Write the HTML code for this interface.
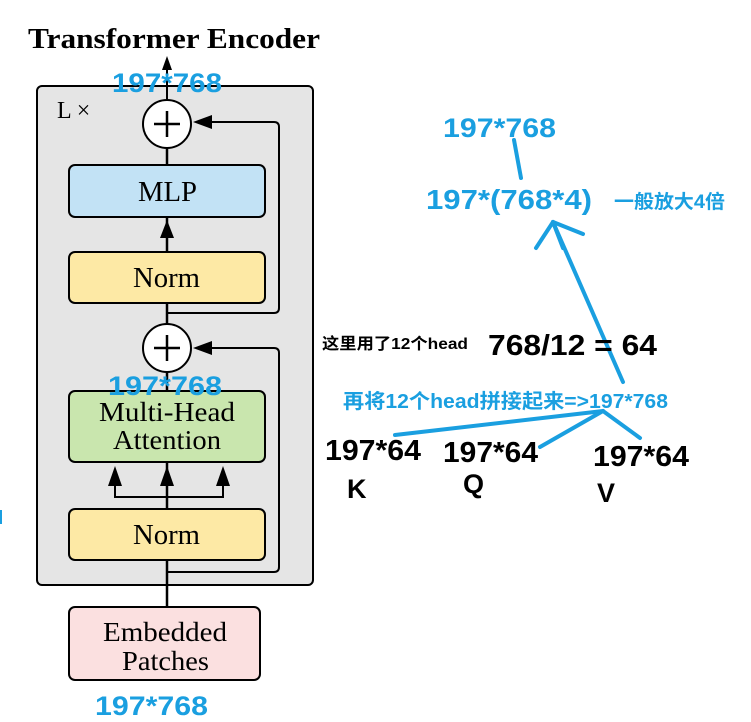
<!DOCTYPE html>
<html><head><meta charset="utf-8"><style>
body{margin:0;background:#fff;width:751px;height:722px;overflow:hidden}
</style></head><body>
<svg width="751" height="722" xmlns="http://www.w3.org/2000/svg" style="position:absolute;left:0;top:0">
<text x="28" y="48" font-family="Liberation Serif,serif" font-weight="bold" font-size="29" textLength="292" lengthAdjust="spacingAndGlyphs">Transformer Encoder</text>
<rect x="37" y="86" width="276" height="499" rx="5" fill="#e5e5e5" stroke="#000" stroke-width="2"/>
<text x="57" y="118" font-family="Liberation Serif,serif" font-size="24">L ×</text>
<line x1="167" y1="607" x2="167" y2="372" stroke="#000" stroke-width="2.5"/>
<line x1="167" y1="324" x2="167" y2="148" stroke="#000" stroke-width="2.5"/>
<line x1="167" y1="100" x2="167" y2="60" stroke="#000" stroke-width="2"/>
<path d="M162,70 L167,56 L172,70 z"/>
<path d="M160,238 L167,220 L174,238 z"/>
<path d="M167,313 H274 Q279,313 279,308 V127 Q279,122 274,122 H210" fill="none" stroke="#000" stroke-width="2"/>
<path d="M193,122 L212,115 L212,129 z"/>
<path d="M167,572 H274 Q279,572 279,567 V353 Q279,348 274,348 H210" fill="none" stroke="#000" stroke-width="2"/>
<path d="M193,348 L212,341 L212,355 z"/>
<g font-family="Liberation Serif,serif" font-size="28">
<rect x="69" y="165" width="196" height="52" rx="6" fill="#c2e2f5" stroke="#000" stroke-width="2"/>
<text x="138" y="201" textLength="59" lengthAdjust="spacingAndGlyphs">MLP</text>
<rect x="69" y="252" width="196" height="51" rx="6" fill="#fde9a5" stroke="#000" stroke-width="2"/>
<text x="133" y="287" textLength="67" lengthAdjust="spacingAndGlyphs">Norm</text>
<rect x="69" y="391" width="196" height="71" rx="6" fill="#c9e6ae" stroke="#000" stroke-width="2"/>
<text x="99" y="421" font-size="27" textLength="136" lengthAdjust="spacingAndGlyphs">Multi-Head</text>
<text x="113" y="449" font-size="27" textLength="108" lengthAdjust="spacingAndGlyphs">Attention</text>
<path d="M115,490 V497 H223 V490 M167,509 V480" fill="none" stroke="#000" stroke-width="2"/>
<line x1="115" y1="497" x2="115" y2="480" stroke="#000" stroke-width="2"/>
<line x1="223" y1="497" x2="223" y2="480" stroke="#000" stroke-width="2"/>
<path d="M108,486 L115,466 L122,486 z"/><path d="M160,486 L167,466 L174,486 z"/><path d="M216,486 L223,466 L230,486 z"/>
<rect x="69" y="509" width="196" height="51" rx="6" fill="#fde9a5" stroke="#000" stroke-width="2"/>
<text x="133" y="544" textLength="67" lengthAdjust="spacingAndGlyphs">Norm</text>
<rect x="69" y="607" width="191" height="73" rx="6" fill="#fbe0e0" stroke="#000" stroke-width="2"/>
<text x="103" y="641" font-size="27" textLength="124" lengthAdjust="spacingAndGlyphs">Embedded</text>
<text x="122" y="670" font-size="27" textLength="87" lengthAdjust="spacingAndGlyphs">Patches</text>
</g>
<circle cx="167" cy="124" r="24" fill="#fff" stroke="#000" stroke-width="2"/>
<path d="M154,124 H180 M167,111 V137" stroke="#000" stroke-width="2.5"/>
<circle cx="167" cy="348" r="24" fill="#fff" stroke="#000" stroke-width="2"/>
<path d="M154,348 H180 M167,335 V361" stroke="#000" stroke-width="2.5"/>
<g font-family="Liberation Sans,'Noto Sans CJK SC',sans-serif" font-weight="bold" fill="#1a9fe0">
<text x="112" y="92" font-size="27" textLength="110" lengthAdjust="spacingAndGlyphs">197*768</text>
<text x="108" y="395" font-size="27" textLength="114" lengthAdjust="spacingAndGlyphs">197*768</text>
<text x="95" y="715" font-size="27" textLength="113" lengthAdjust="spacingAndGlyphs">197*768</text>
<text x="443" y="137" font-size="27" textLength="113" lengthAdjust="spacingAndGlyphs">197*768</text>
<text x="426" y="209" font-size="28" textLength="166" lengthAdjust="spacingAndGlyphs">197*(768*4)</text>
<text x="614" y="208" font-size="19" textLength="111" lengthAdjust="spacingAndGlyphs">一般放大4倍</text>
<text x="343" y="408" font-size="20" textLength="325" lengthAdjust="spacingAndGlyphs">再将12个head拼接起来=&gt;197*768</text>
</g>
<g stroke="#1a9fe0" stroke-width="4" stroke-linecap="round" fill="none">
<line x1="514" y1="140" x2="521" y2="178"/>
<line x1="553" y1="222" x2="623" y2="382"/>
<line x1="553" y1="222" x2="536" y2="248"/>
<line x1="553" y1="222" x2="563" y2="248"/>
<line x1="553" y1="222" x2="583" y2="234"/>
<line x1="603" y1="411" x2="395" y2="435"/>
<line x1="603" y1="411" x2="540" y2="447"/>
<line x1="603" y1="411" x2="640" y2="438"/>
</g>
<rect x="0" y="510" width="2" height="14" fill="#1a9fe0"/>
<g font-family="Liberation Sans,'Noto Sans CJK SC',sans-serif" font-weight="bold" fill="#000">
<text x="322" y="349" font-size="16" textLength="146" lengthAdjust="spacingAndGlyphs">这里用了12个head</text>
<text x="488" y="355" font-size="29" textLength="169" lengthAdjust="spacingAndGlyphs">768/12 = 64</text>
<text x="325" y="460" font-size="29" textLength="96" lengthAdjust="spacingAndGlyphs">197*64</text>
<text x="347" y="498" font-size="27">K</text>
<text x="443" y="462" font-size="29" textLength="95" lengthAdjust="spacingAndGlyphs">197*64</text>
<text x="463" y="493" font-size="27">Q</text>
<text x="593" y="466" font-size="29" textLength="96" lengthAdjust="spacingAndGlyphs">197*64</text>
<text x="597" y="502" font-size="27">V</text>
</g>
</svg>
</body></html>
